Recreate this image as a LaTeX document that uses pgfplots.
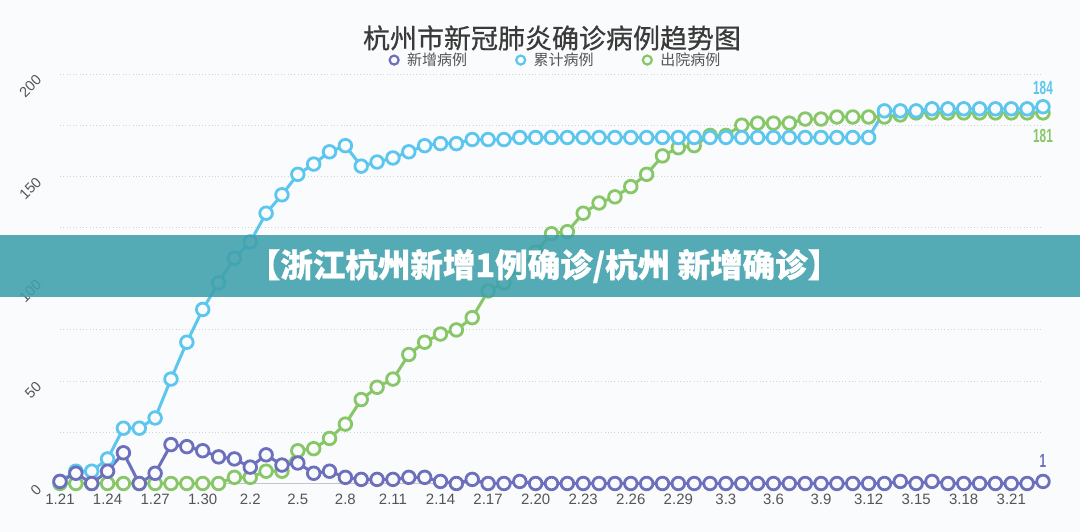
\documentclass[border=0pt]{standalone}
\usepackage{fontspec}
\usepackage{graphicx}
\usepackage{pgfplots}
\usepackage{pgfplotstable}
\pgfplotsset{compat=1.18}
\setmainfont{Liberation Sans}
\newfontfamily\cjk{Noto Sans CJK SC}
\newfontfamily\cjktitle{Noto Sans CJK SC}[FakeBold=0.6]
\newfontfamily\cjkban{Noto Sans CJK SC}[BoldFeatures={FakeBold=0.8}]
\definecolor{bg}{RGB}{249,251,252}
\definecolor{cpur}{RGB}{108,111,187}
\definecolor{cblu}{RGB}{92,198,238}
\definecolor{cgrn}{RGB}{136,199,104}
\definecolor{banner}{RGB}{62,161,173}
\definecolor{txt}{RGB}{85,85,85}
\definecolor{ttl}{RGB}{58,58,58}
\pgfplotstableread{
x new cum out
0 1 1 0
1 5 6 0
2 0 6 0
3 6 12 0
4 15 27 0
5 0 27 0
6 5 32 0
7 19 51 0
8 18 69 0
9 16 85 0
10 13 98 0
11 12 110 3
12 8 118 3
13 14 132 6
14 9 141 6
15 10 151 16
16 5 156 17
17 6 162 22
18 3 165 29
19 2 155 41
20 2 157 47
21 2 159 51
22 3 162 63
23 3 165 69
24 1 166 73
25 0 166 75
26 2 168 81
27 0 168 94
28 0 168 98
29 1 169 105
30 0 169 113
31 0 169 122
32 0 169 123
33 0 169 132
34 0 169 137
35 0 169 140
36 0 169 145
37 0 169 151
38 0 169 160
39 0 169 164
40 0 169 165
41 0 169 170
42 0 169 170
43 0 169 175
44 0 169 176
45 0 169 176
46 0 169 176
47 0 169 178
48 0 169 178
49 0 169 179
50 0 169 179
51 0 169 179
52 0 182 179
53 1 182 180
54 0 182 181
55 1 183 181
56 0 183 181
57 0 183 181
58 0 183 181
59 0 183 181
60 0 183 181
61 0 183 181
62 1 184 181
}\data
\begin{document}
\begin{tikzpicture}[x=1pt,y=1pt]
\fill[bg] (0,0) rectangle (1080,532);
\begin{axis}[
  at={(60pt,48.5pt)}, anchor=origin,
  scale only axis, width=983pt, height=409.5pt,
  xmin=0, xmax=62, ymin=0, ymax=200,
  clip=false,
  axis line style={draw=none},
  major tick length=0pt, minor tick length=0pt,
  /pgf/number format/assume math mode=true,
  xtick={0,3,...,60},
  xticklabels={1.21,1.24,1.27,1.30,2.2,2.5,2.8,2.11,2.14,2.17,2.20,2.23,2.26,2.29,3.3,3.6,3.9,3.12,3.15,3.18,3.21},
  ytick={0,50,100,150,200},
  minor ytick={25,75,125,175},
  ymajorgrids, yminorgrids,
  major grid style={color=gray!35, line width=0.9pt, dash pattern=on 0.9pt off 2.4pt},
  minor grid style={color=gray!35, line width=0.9pt, dash pattern=on 0.9pt off 2.4pt},
  xticklabel style={font=\fontsize{15}{15}\selectfont, text=txt, anchor=center, yshift=-15.5pt},
  yticklabel style={font=\fontsize{14.5}{14.5}\selectfont, text=txt, inner sep=0pt, xshift=-21pt, yshift=-3.5pt, rotate=45, anchor=east},
  legend style={at={(axis description cs:0.504,1.034)}, anchor=center, legend columns=3, draw=none, fill=none,
    font=\cjk\fontsize{15}{15}\selectfont, text=txt,
    /tikz/every even column/.append style={column sep=46pt}},
  legend image code/.code={\draw[#1, mark size=4.5pt, mark options={fill=bg, line width=2.2pt}] plot coordinates {(0pt,0pt)}; \path[draw=none] (-5.6pt,0pt) -- (11pt,0pt);},
  reverse legend,
]
\draw[color=gray!45, line width=1pt] (axis cs:0,0) -- (axis cs:62,0);
\addplot[cgrn, line width=3pt, mark=*, mark size=6.3pt, mark options={fill=bg, draw=cgrn, line width=2.8pt}] table[x=x, y=out]{\data};
\addlegendentry{出院病例}
\addplot[cblu, line width=3pt, mark=*, mark size=6.3pt, mark options={fill=bg, draw=cblu, line width=2.8pt}] table[x=x, y=cum]{\data};
\addlegendentry{累计病例}
\addplot[cpur, line width=3pt, mark=*, mark size=6.3pt, mark options={fill=bg, draw=cpur, line width=2.8pt}] table[x=x, y=new]{\data};
\addlegendentry{新增病例}
\node[text=cblu, font=\bfseries\fontsize{19}{19}\selectfont, yshift=19pt] at (axis cs:62,184) {\scalebox{0.62}[1]{184}};
\node[text=cgrn, font=\bfseries\fontsize{19}{19}\selectfont, yshift=-23pt] at (axis cs:62,181) {\scalebox{0.62}[1]{181}};
\node[text=cpur, font=\bfseries\fontsize{19}{19}\selectfont, yshift=20pt] at (axis cs:62,1) {\scalebox{0.62}[1]{1}};
\end{axis}
\node[text=ttl, font=\cjktitle\fontsize{27}{27}\selectfont] at (552,494) {杭州市新冠肺炎确诊病例趋势图};
\fill[banner, fill opacity=0.88] (0,235) rectangle (1080,297);
\node[text=white, font=\cjkban\bfseries\fontsize{32.5}{32.5}\selectfont] at (544,266) {【浙江杭州新增1例确诊/杭州 新增确诊】};
\pgfresetboundingbox
\path (0,0) rectangle (1080,532);
\end{tikzpicture}
\end{document}
